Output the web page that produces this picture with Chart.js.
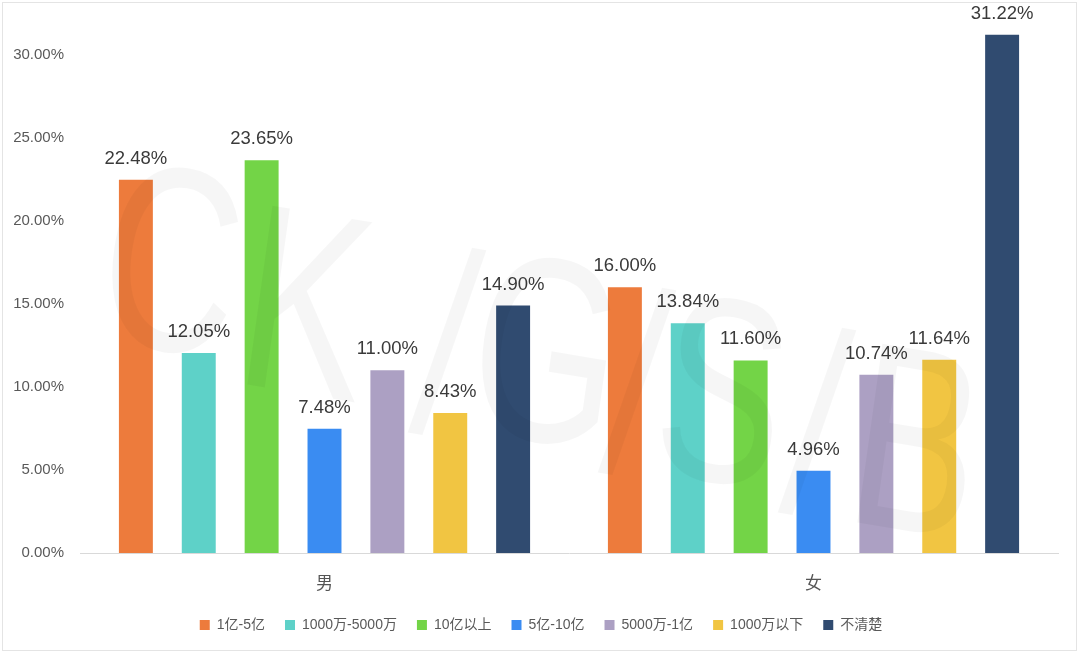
<!DOCTYPE html>
<html>
<head>
<meta charset="utf-8">
<script src="https://cdn.jsdelivr.net/npm/chart.js@4/dist/chart.umd.min.js"></script>
<style>
    body { margin: 0; background: #fff; }
</style>
</head>
<body>
<canvas id="graficoRenda" width="1080" height="654"></canvas>
<script>
// Dados do gráfico
const categorias = ['男', '女'];
const series = ['1亿-5亿', '1000万-5000万', '10亿以上', '5亿-10亿', '5000万-1亿', '1000万以下', '不清楚'];
const valores = [
    [22.48, 16.00],
    [12.05, 13.84],
    [23.65, 11.60],
    [7.48, 4.96],
    [11.00, 10.74],
    [8.43, 11.64],
    [14.90, 31.22]
];
const cores = ['#ED7B3C', '#5ED1C8', '#73D447', '#3A8CF2', '#ACA0C3', '#F1C542', '#304B70'];
const marcasEixo = [0, 5, 10, 15, 20, 25, 30];

const fonteBase = '"Liberation Sans", "Noto Sans CJK SC", sans-serif';

// Plugin para escrever os valores em cima das barras
const rotulosPlugin = {
    id: 'rotulos',
    afterDatasetsDraw(chart) {
        const ctx = chart.ctx;
        ctx.save();
        ctx.font = '18.5px ' + fonteBase;
        ctx.fillStyle = '#3a3a3a';
        ctx.textAlign = 'center';
        ctx.textBaseline = 'alphabetic';
        chart.data.datasets.forEach(function (ds, i) {
            const meta = chart.getDatasetMeta(i);
            meta.data.forEach(function (bar, j) {
                ctx.fillText(ds.data[j].toFixed(2) + '%', bar.x, bar.y - 16);
            });
        });
        ctx.restore();
    }
};

// Marca d'água "CK/GSB" bem clara
const marcaDaguaPlugin = {
    id: 'marcaDagua',
    afterLayout(chart) {
        // legenda um pouco mais para a direita, como no original
        if (chart.legend) {
            chart.legend.left += 12;
            chart.legend.right += 12;
        }
    },
    afterDatasetsDraw(chart) {
        const ctx = chart.ctx;
        const letras = [
            ['C', 92, 338], ['K', 232, 382], ['/', 408, 430],
            ['G', 462, 428], ['/', 598, 470], ['S', 648, 470],
            ['/', 778, 510], ['B', 842, 520]
        ];
        ctx.save();
        ctx.fillStyle = 'rgba(0, 0, 0, 0.035)';
        ctx.font = '260px ' + fonteBase;
        ctx.textAlign = 'left';
        ctx.textBaseline = 'alphabetic';
        letras.forEach(function (l) {
            ctx.setTransform(0.72, 0.12, -0.14, 1, l[1], l[2]);
            ctx.fillText(l[0], 0, 0);
        });
        ctx.restore();
    },
    afterDraw(chart) {
        const ctx = chart.ctx;
        ctx.save();
        ctx.strokeStyle = '#e4e4e4';
        ctx.lineWidth = 1;
        ctx.strokeRect(2.5, 2.5, 1074, 648);
        ctx.restore();
    }
};

new Chart(document.getElementById('graficoRenda'), {
    type: 'bar',
    data: {
        labels: categorias,
        datasets: series.map(function (nome, i) {
            return {
                label: nome,
                data: valores[i],
                backgroundColor: cores[i],
                borderWidth: 0,
                categoryPercentage: 0.9,
                barPercentage: 0.54
            };
        })
    },
    options: {
        responsive: false,
        animation: false,
        layout: { padding: { top: 14, right: 22, bottom: 12, left: 0 } },
        plugins: {
            tooltip: { enabled: false },
            legend: {
                position: 'bottom',
                labels: {
                    boxWidth: 10,
                    boxHeight: 10,
                    padding: 20,
                    color: '#595959',
                    font: { size: 14, family: fonteBase }
                }
            }
        },
        scales: {
            x: {
                grid: { display: false, drawTicks: false },
                border: { display: true, color: '#d9d9d9', width: 1 },
                ticks: {
                    color: '#555',
                    padding: 21,
                    font: { size: 17, family: fonteBase }
                },
                afterFit(scale) { scale.height = 45; }
            },
            y: {
                min: 0,
                max: 31.8,
                grid: { display: false, drawTicks: false },
                border: { display: false },
                afterBuildTicks(scale) {
                    scale.ticks = marcasEixo.map(function (v) { return { value: v }; });
                },
                ticks: {
                    padding: 16,
                    color: '#595959',
                    font: { size: 15, family: fonteBase },
                    callback: function (v) { return v.toFixed(2) + '%'; }
                },
                afterFit(scale) { scale.width = 80; }
            }
        }
    },
    plugins: [rotulosPlugin, marcaDaguaPlugin]
});
</script>
</body>
</html>
